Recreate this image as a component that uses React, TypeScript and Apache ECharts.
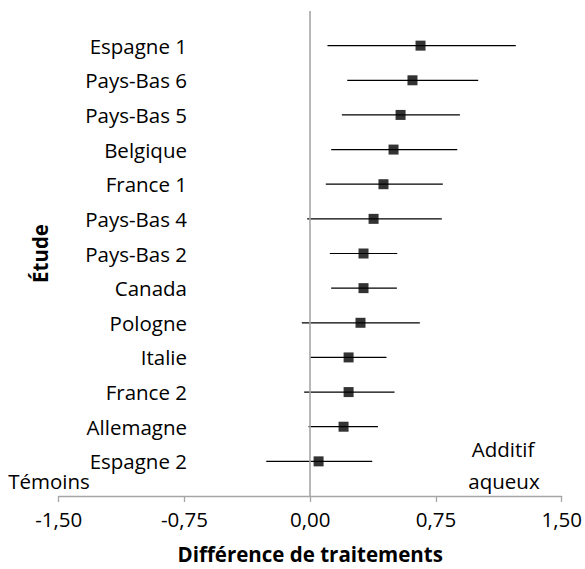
import React, { useEffect, useRef } from 'react';
import * as echarts from 'echarts';

const categories = [
  'Espagne 1', 'Pays-Bas 6', 'Pays-Bas 5', 'Belgique', 'France 1', 'Pays-Bas 4',
  'Pays-Bas 2', 'Canada', 'Pologne', 'Italie', 'France 2', 'Allemagne', 'Espagne 2',
];
const estimates = [0.658, 0.61, 0.539, 0.497, 0.437, 0.378, 0.318, 0.318, 0.3, 0.229, 0.229, 0.199, 0.05];
const lower = [0.103, 0.221, 0.189, 0.125, 0.093, -0.018, 0.117, 0.125, -0.05, 0.0, -0.036, -0.01, -0.262];
const upper = [1.226, 1.002, 0.893, 0.877, 0.791, 0.785, 0.519, 0.517, 0.654, 0.455, 0.503, 0.404, 0.37];
const xTicks = [-1.5, -0.75, 0, 0.75, 1.5];
const xTitle = 'Différence de traitements';
const yTitle = 'Étude';
const leftNote = 'Témoins';
const rightNote = ['Additif', 'aqueux'];

const FONT = "'Open Sans', sans-serif";
const FS = 20.5;

export default function App() {
  const ref = useRef<HTMLDivElement>(null);
  useEffect(() => {
    document.body.style.margin = '0';
    const chart = echarts.init(ref.current!, null, { renderer: 'svg' });
    const n = categories.length;
    const pos = (i: number) => n - i;
    chart.setOption({
      animation: false,
      textStyle: { fontFamily: FONT },
      grid: { left: 58.7, right: 23.3, top: 11, bottom: 69, containLabel: false },
      xAxis: {
        type: 'value',
        min: xTicks[0],
        max: xTicks[xTicks.length - 1],
        interval: 0.75,
        axisLine: { show: true, onZero: false, lineStyle: { color: '#a6a6a6', width: 1.3 } },
        axisTick: { show: true, inside: false, length: 6, lineStyle: { color: '#a6a6a6', width: 1.3 } },
        splitLine: { show: false },
        axisLabel: {
          show: true,
          margin: 12,
          color: '#000',
          fontSize: FS,
          fontFamily: FONT,
          showMinLabel: true,
          showMaxLabel: true,
          formatter: (v: number) => v.toFixed(2).replace('.', ','),
        },
        name: xTitle,
        nameLocation: 'middle',
        nameGap: 47,
        nameTextStyle: { color: '#000', fontSize: FS, fontWeight: 'bold', fontFamily: FONT },
      },
      yAxis: {
        type: 'value',
        min: 0,
        max: n + 1,
        interval: 1,
        axisLine: { show: false, onZero: false },
        axisTick: { show: false },
        splitLine: { show: false },
        axisLabel: {
          show: true,
          margin: -128.3,
          color: '#000',
          fontSize: FS,
          fontFamily: FONT,
          showMinLabel: true,
          showMaxLabel: true,
          formatter: (v: number) => {
            const i = n - v;
            return i >= 0 && i < n && Number.isInteger(i) ? categories[i] : '';
          },
        },
        name: yTitle,
        nameLocation: 'middle',
        nameRotate: 90,
        nameGap: 7,
        nameTextStyle: { color: '#000', fontSize: FS, fontWeight: 'bold', fontFamily: FONT },
      },
      series: [
        {
          type: 'custom',
          data: categories.map((_, i) => [lower[i], upper[i], pos(i)]),
          encode: { x: [0, 1], y: 2 },
          renderItem: (params: any, api: any) => {
            const y = api.value(2);
            const p1 = api.coord([api.value(0), y]);
            const p2 = api.coord([api.value(1), y]);
            return {
              type: 'line',
              shape: { x1: p1[0], y1: p1[1], x2: p2[0], y2: p2[1] },
              style: { stroke: '#000', lineWidth: 1.2 },
            };
          },
          z: 3,
          markLine: {
            silent: true,
            symbol: ['none', 'none'],
            label: { show: false },
            lineStyle: { color: '#a6a6a6', width: 1.6, type: 'solid' },
            data: [{ xAxis: 0 }],
          },
        },
        {
          type: 'scatter',
          data: categories.map((_, i) => [estimates[i], pos(i)]),
          symbol: 'rect',
          symbolSize: 10,
          itemStyle: { color: '#000' },
          z: 4,
        },
      ],
      graphic: [
        {
          type: 'text',
          x: 49,
          y: 481,
          style: { text: leftNote, align: 'center', verticalAlign: 'middle', fontSize: FS, fontFamily: FONT, fill: '#000' },
        },
        {
          type: 'text',
          x: 503,
          y: 449,
          style: { text: rightNote[0], align: 'center', verticalAlign: 'middle', fontSize: FS, fontFamily: FONT, fill: '#000' },
        },
        {
          type: 'text',
          x: 504,
          y: 481,
          style: { text: rightNote[1], align: 'center', verticalAlign: 'middle', fontSize: FS, fontFamily: FONT, fill: '#000' },
        },
      ],
    });
    return () => chart.dispose();
  }, []);
  return <div ref={ref} style={{ position: 'absolute', left: 0, top: 0, width: 585, height: 569 }} />;
}
